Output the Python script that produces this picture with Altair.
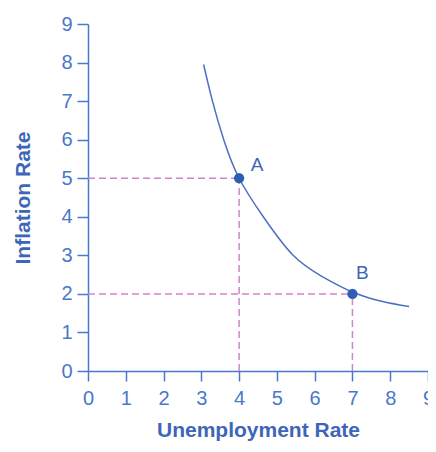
import altair as alt
import pandas as pd

# Phillips curve
curve_x = [3.06, 3.3, 3.6, 4.0, 4.64, 5.43, 6.2, 7.0, 7.8, 8.5]
curve_y = [7.95, 6.98, 5.98, 5.0, 4.0, 3.0, 2.45, 2.05, 1.8, 1.67]

point_names = ["A", "B"]
point_x = [4, 7]
point_y = [5, 2]

ticks = [0, 1, 2, 3, 4, 5, 6, 7, 8, 9]

AXIS_BLUE = "#4a78cc"
TITLE_BLUE = "#3d66b8"
CURVE_BLUE = "#4d6fc2"
DOT_BLUE = "#2c5fb3"
PINK = "#cf86c6"
FONT = "Liberation Sans"

curve_df = pd.DataFrame({"x": curve_x, "y": curve_y})
pts_df = pd.DataFrame({"name": point_names, "x": point_x, "y": point_y})

# dashed guide segments built from the two points
hseg = pd.DataFrame({"x": [0] * len(point_x), "x2": point_x, "y": point_y})
vseg = pd.DataFrame({"x": point_x, "y": [0] * len(point_y), "y2": point_y})

xscale = alt.Scale(domain=[0, 9], nice=False)
yscale = alt.Scale(domain=[0, 9], nice=False)

xaxis = alt.Axis(
    title="Unemployment Rate", values=ticks, tickCount=10, grid=False,
    domainColor=AXIS_BLUE, domainWidth=1.5, tickColor=AXIS_BLUE, tickWidth=1.5,
    tickSize=10, labelColor=AXIS_BLUE, labelFontSize=20, labelFont=FONT,
    labelPadding=7, titleColor=TITLE_BLUE, titleFontSize=21, titleFont=FONT,
    titleFontWeight="bold", titlePadding=11, labelFlush=False, labelOverlap=False,
)
yaxis = alt.Axis(
    title="Inflation Rate", values=ticks, tickCount=10, grid=False,
    domainColor=AXIS_BLUE, domainWidth=1.5, tickColor=AXIS_BLUE, tickWidth=1.5,
    tickSize=11, labelColor=AXIS_BLUE, labelFontSize=20, labelFont=FONT,
    labelPadding=5, titleColor=TITLE_BLUE, titleFontSize=21, titleFont=FONT,
    titleFontWeight="bold", titlePadding=27, labelFlush=False, labelOverlap=False,
)

X = lambda f: alt.X(f, scale=xscale, axis=xaxis)
Y = lambda f: alt.Y(f, scale=yscale, axis=yaxis)

hlines = alt.Chart(hseg).mark_rule(color=PINK, strokeWidth=1.5, strokeDash=[7, 4]).encode(
    x=X("x:Q"), x2="x2:Q", y=Y("y:Q"),
)
vlines = alt.Chart(vseg).mark_rule(color=PINK, strokeWidth=1.5, strokeDash=[7, 4]).encode(
    x=X("x:Q"), y=Y("y:Q"), y2="y2:Q",
)
curve = alt.Chart(curve_df).mark_line(color=CURVE_BLUE, strokeWidth=1.5, interpolate="natural").encode(
    x=X("x:Q"), y=Y("y:Q"),
)
dots = alt.Chart(pts_df).mark_circle(color=DOT_BLUE, size=105, opacity=1).encode(
    x=X("x:Q"), y=Y("y:Q"),
)
labelA = alt.Chart(pts_df[pts_df.name == "A"]).mark_text(
    color=TITLE_BLUE, fontSize=19, font=FONT, dx=18, dy=-13
).encode(x=X("x:Q"), y=Y("y:Q"), text="name:N")
labelB = alt.Chart(pts_df[pts_df.name == "B"]).mark_text(
    color=TITLE_BLUE, fontSize=19, font=FONT, dx=10, dy=-21
).encode(x=X("x:Q"), y=Y("y:Q"), text="name:N")

chart = alt.layer(hlines, vlines, curve, dots, labelA, labelB).properties(
    width=340, height=347,
    autosize=alt.AutoSizeParams(type="none"),
    padding={"left": 80, "top": 16, "right": 0, "bottom": 73},
).configure(background="white").configure_view(stroke=None)

chart.save("out.html", embed_options={"renderer": "svg", "actions": False})
